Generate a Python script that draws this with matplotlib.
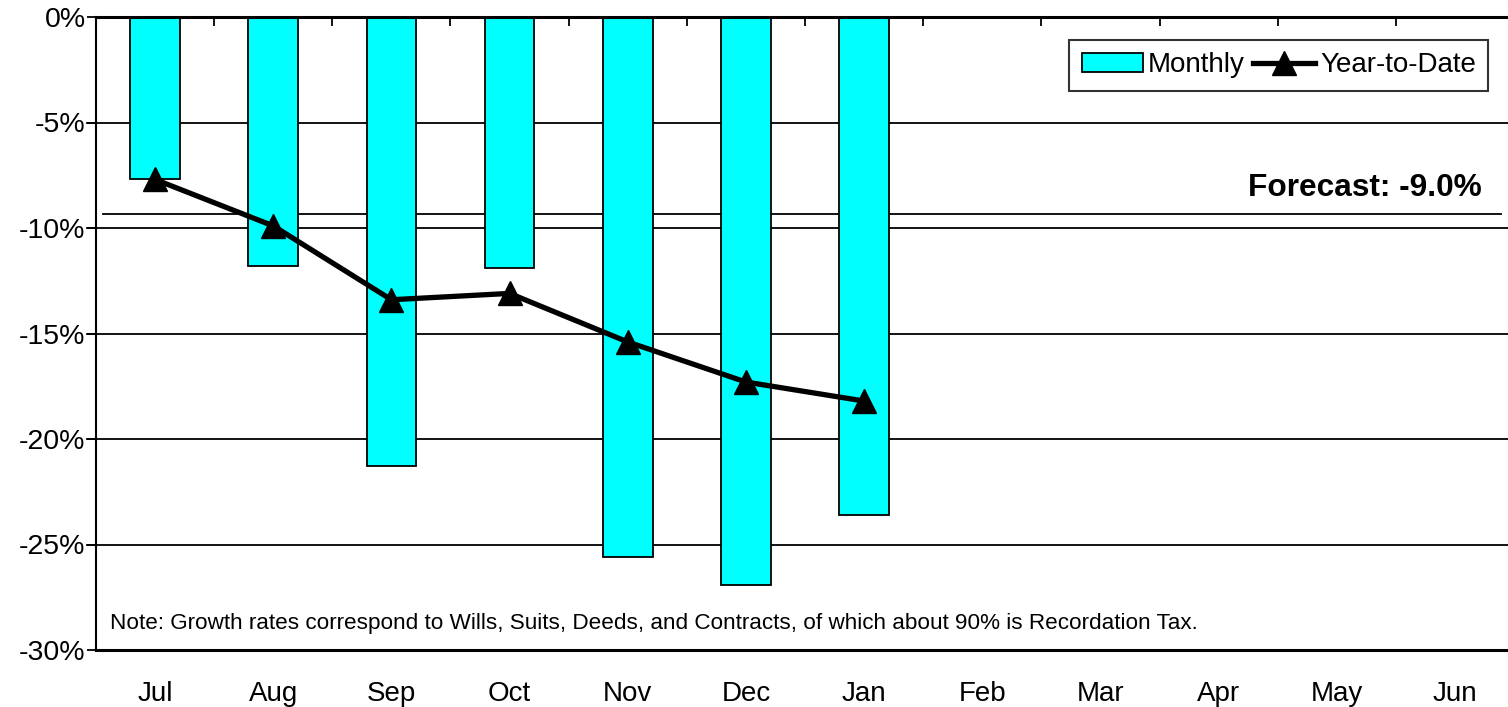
import matplotlib
matplotlib.use('Agg')
import matplotlib.pyplot as plt
from matplotlib.ticker import FuncFormatter, MultipleLocator
import numpy as np

plt.rcParams['font.family'] = ['Liberation Sans', 'DejaVu Sans']

months = ['Jul', 'Aug', 'Sep', 'Oct', 'Nov', 'Dec', 'Jan', 'Feb', 'Mar', 'Apr', 'May', 'Jun']
monthly = [-7.7, -11.8, -21.3, -11.9, -25.6, -26.9, -23.6]
ytd = [-7.7, -9.9, -13.4, -13.1, -15.4, -17.3, -18.2]
forecast_line = -9.33
forecast_label = 'Forecast: -9.0%'
note = ('Note: Growth rates correspond to Wills, Suits, Deeds, and Contracts, '
        'of which about 90% is Recordation Tax.')

fig = plt.figure(figsize=(15.08, 7.07), dpi=100)
ax = fig.add_axes([96 / 1508, 1 - 650 / 707, 1418 / 1508, 633 / 707])

x = np.arange(len(monthly))
bars = ax.bar(x, monthly, width=0.42, color='#00FFFF', edgecolor='black', linewidth=1.3,
              label='Monthly', zorder=2)
line, = ax.plot(x, ytd, color='black', linewidth=3.8, marker='^', markersize=17,
                label='Year-to-Date', zorder=4)

ax.set_xlim(-0.5, len(months) - 0.5)
ax.set_ylim(-30, 0)

for g in range(-25, 0, 5):
    ax.axhline(g, color='black', linewidth=1.3, zorder=1, xmin=-0.0065, clip_on=False)
ax.axhline(forecast_line, color='black', linewidth=1.3, xmin=0.005, xmax=0.991, zorder=1)
ax.text(11.23, -8.1, forecast_label, ha='right', va='center', fontsize=22.8, fontweight='bold')
ax.text(-0.38, -28.75, note, ha='left', va='center', fontsize=16.2)

ax.yaxis.set_major_locator(MultipleLocator(5))
ax.yaxis.set_major_formatter(FuncFormatter(lambda v, p: '%d%%' % round(v)))
ax.tick_params(axis='y', direction='out', length=6.5, width=1.3, labelsize=20.5, pad=1)

ax.set_xticks(np.arange(len(months)))
ax.set_xticklabels(months)
ax.tick_params(axis='x', which='major', length=0, labelsize=20, pad=22)
ax.set_xticks(np.arange(len(months)) + 0.5, minor=True)
ax.tick_params(axis='x', which='minor', top=True, bottom=False, direction='in',
               length=6.5, width=1.3)

for s in ['top', 'bottom']:
    ax.spines[s].set_linewidth(2.2)
ax.spines['left'].set_linewidth(1.5)
ax.spines['right'].set_visible(False)

leg = ax.legend([bars, line], ['Monthly', 'Year-to-Date'],
                loc='upper right', bbox_to_anchor=(0.982, 0.964), borderaxespad=0,
                ncol=2, fontsize=20, frameon=True, fancybox=False, edgecolor='black',
                handlelength=2.2, handletextpad=0.2, columnspacing=0.3,
                borderpad=0.45)
leg.get_frame().set_linewidth(1.5)

fig.savefig('out.png', dpi=100)
